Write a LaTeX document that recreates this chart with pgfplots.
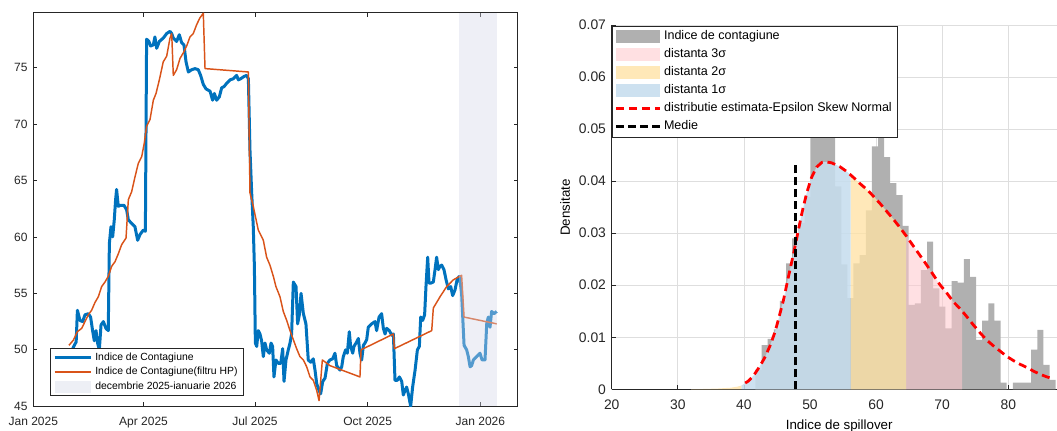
\documentclass[border=0pt]{standalone}
\usepackage{fontspec}
\setmainfont{Liberation Sans}
\usepackage{pgfplots}
\pgfplotsset{compat=1.18}
\definecolor{mblue}{RGB}{0,114,189}
\definecolor{morange}{RGB}{217,83,25}
\definecolor{shadec}{RGB}{212,215,232}
\definecolor{axgray}{RGB}{38,38,38}
\definecolor{histgray}{RGB}{176,176,176}
\definecolor{s1}{RGB}{198,221,238}
\definecolor{s2}{RGB}{255,226,165}
\definecolor{s3}{RGB}{255,200,205}
\begin{document}
\begin{tikzpicture}[x=1pt,y=1pt]
\useasboundingbox (0,0) rectangle (792.75,323.25);
\clip (0,0) rectangle (792.75,323.25);
% ---------------- left panel ----------------
\begin{axis}[
  at={(24.98pt,18.53pt)}, anchor=south west,
  width=363.3pt, height=295.2pt, scale only axis,
  xmin=0, xmax=395.5, ymin=45, ymax=79.85,
  xtick={0,90,181,273,365},
  xticklabels={Jan 2025,Apr 2025,Jul 2025,Oct 2025,Jan 2026},
  ytick={45,50,55,60,65,70,75},
  tick align=inside, major tick length=3pt,
  axis line style={axgray, line width=0.5pt},
  tick style={axgray, line width=0.5pt},
  /pgf/number format/assume math mode=true,
  ticklabel style={font=\fontsize{9}{10}\selectfont, text=axgray},
  xticklabel style={yshift=-4.5pt},
  yticklabel style={xshift=-0.75pt},
  legend style={at={(0.0345,0.027)}, anchor=south west,
    font=\fontsize{7.8}{9}\selectfont, draw=axgray, line width=0.5pt,
    inner xsep=2pt, inner ysep=1pt, row sep=0pt,
    nodes={inner ysep=0pt, text height=7.5pt, text depth=3.5pt}},
  legend cell align=left,
]
\addplot[mblue, line width=2.25pt, line join=round,
  legend image code/.code={\draw[mblue, line width=2.25pt] (0pt,0pt) -- (27.5pt,0pt);}]
coordinates {
(31,49.8)(33,50.3)(35,50.7)(36,53.5)(36.7,53.2)(38.1,52.6)(40.3,52.5)(42.2,53.1)(44.9,53.2)(46.8,52.9)
(48.4,51.7)(49.8,50.8)(51.2,51.7)(52.5,50.6)(53.9,50.0)(55.3,52.2)(57.2,52.5)(59.3,51.9)(61.2,51.7)
(62.1,59.4)(63.4,60.9)(64.8,60.0)(66.1,61.5)(67.2,63.3)(68.0,64.2)(69.4,62.7)(71.3,62.8)(74.0,62.8)
(76.2,62.4)(77.6,61.5)(80.3,61.2)(83.0,60.9)(85.2,59.7)(87.1,60.2)(89.8,60.6)(91.5,60.5)
(92.5,77.5)(94.4,77.3)(95.8,76.9)(98.0,77.0)(99.3,77.7)(100.7,76.7)(102.9,77.3)(106.1,77.6)(108.9,78.0)
(111.6,78.2)(113.0,78.0)(114.3,77.6)(117.0,77.3)(119.2,77.9)(121.1,77.2)(123.0,77.0)(124.7,75.5)
(126.6,74.6)(129.3,74.8)(132.0,74.9)(134.7,74.8)(136.6,74.3)(138.8,73.5)(141.0,73.1)(144.3,72.9)
(146.4,72.1)(147.8,72.7)(149.7,72.1)(151.9,72.4)(153.8,73.2)(155.7,73.3)(157.9,73.6)(160.6,73.9)
(163.3,74.0)(166.0,74.3)(167.4,73.9)(169.3,74.0)(172.0,74.2)(174.2,74.3)(175.6,74.0)
(176.9,67.7)(178.3,63.9)(179.6,60.9)(180.5,57.4)(181.3,50.6)(182.4,50.3)(183.7,51.7)(185.1,51.4)
(186.4,50.8)(187.8,49.4)(189.2,50.6)(190.5,50.0)(192.7,49.7)(194.1,50.6)(195.4,50.3)(196.5,47.6)
(198.1,49.1)(200.1,48.8)(202.0,48.8)(203.6,50.1)(204.7,47.2)(206.3,49.1)(208.2,50.0)(209.6,50.6)
(210.9,51.4)(212.3,56.0)(214.5,55.6)(215.8,52.3)(217.2,53.1)(218.6,55.0)(220.5,53.2)(222.6,52.3)
(224.5,49.1)(226.5,48.9)(228.6,49.2)(230.0,48.2)(231.4,47.0)(233.3,46.4)(234.6,46.1)(236.3,47.2)
(238.2,47.5)(240.1,48.8)(242.2,49.1)(244.4,49.2)(246.3,49.7)(247.7,48.6)(250.4,48.2)(251.8,48.5)
(253.1,49.4)(255.0,50.0)(256.4,49.7)(258.0,51.6)(259.1,50.3)(260.8,49.7)(261.8,50.3)(263.5,50.6)
(265.4,51.0)(266.7,49.7)(268.1,49.1)(269.5,50.4)(270.8,50.6)(272.2,50.9)(273.5,52.0)(276.3,52.3)
(279.0,52.5)(280.3,51.7)(282.3,52.9)(284.4,53.2)(285.8,51.9)(287.2,51.4)(288.5,51.9)(290.7,51.7)
(292.6,51.3)(294.0,51.4)(295.3,47.3)(297.2,47.3)(298.9,47.6)(300.8,47.2)(302.1,46.0)(303.5,46.4)
(304.8,46.7)(306.2,46.1)(308.1,45.0)(309.7,46.7)(311.7,48.2)(313.6,50.0)(315.2,50.3)(316.3,52.9)
(317.9,52.6)(319.5,53.1)(320.6,55.6)(322.0,58.2)(323.1,55.9)(324.4,55.9)(326.6,56.0)(328.0,57.1)
(329.3,58.2)(330.7,57.1)(332.1,57.4)(333.4,57.5)(335.3,57.1)(337.0,56.2)(338.9,55.4)(340.8,55.6)
(342.4,54.8)(344.3,55.3)(346.2,56.3)(347.9,56.5)(349.7,55.0)(351.7,50.4)(353.8,50.0)(355.2,49.4)
(356.6,48.5)(357.9,48.6)(359.3,49.1)(362.0,49.4)(364.7,49.7)(366.4,49.1)(368.8,49.1)(370.2,52.3)
(371.5,52.9)(372.9,52.0)(374.2,53.4)(376.1,53.2)(378.3,53.4)
};
\addlegendentry{Indice de Contagiune}
\addplot[morange, line width=1.1pt, line join=round,
  legend image code/.code={\draw[morange, line width=1.1pt] (0pt,0pt) -- (27.5pt,0pt);}]
coordinates {
(29.1,50.4)(32.7,50.85)(35.9,51.6)(39.5,51.9)(42.2,52.5)(44.9,53.1)(47.6,53.5)(50.4,54.2)(53.1,54.7)
(55.8,55.6)(58.5,56.0)(61.2,56.5)(64.0,57.4)(66.7,57.8)(69.4,58.5)(72.1,59.3)(75.7,59.9)(77.6,63.3)
(80.3,64.0)(83.0,65.3)(85.7,66.5)(88.5,67.1)(90.6,68.3)(92.5,69.8)(95.3,70.4)(98.0,72.1)(100.2,72.7)
(102.9,73.9)(106.1,75.5)(108.9,76.0)(111.6,77.6)(113.0,78.0)(114.3,74.3)(117.0,74.8)(119.8,75.8)
(122.5,76.3)(125.2,76.9)(127.9,77.7)(130.6,78.0)(133.4,78.8)(136.1,79.4)(138.8,79.8)(140.2,74.9)
(175.6,74.6)(176.9,63.9)(179.6,62.7)(183.7,60.6)(187.8,59.7)(190.5,58.2)(193.2,57.5)(196.0,56.5)
(198.1,55.6)(201.4,54.7)(204.1,53.4)(206.9,52.6)(209.6,51.7)(212.3,50.9)(215.0,50.1)(217.7,49.4)
(220.5,49.1)(223.2,48.5)(225.9,47.6)(228.6,47.3)(231.4,46.4)(233.3,45.5)(236.0,49.1)(242.2,48.6)
(266.7,47.6)(267.6,50.0)(294.0,51.4)(294.8,50.1)(325.3,51.7)(326.6,53.7)(332.1,54.7)(337.5,55.6)
(343.0,56.2)(349.7,56.6)(351.7,52.9)(378.3,52.3)
};
\addlegendentry{Indice de Contagiune(filtru HP)}
\addplot[draw=none, fill=shadec, fill opacity=0.4,
  legend image code/.code={\fill[shadec, fill opacity=0.4] (0pt,-4.4pt) rectangle (27.5pt,4.4pt);}]
coordinates {(347.6,45) (347.6,79.85) (378.4,79.85) (378.4,45)} -- cycle;
\addlegendentry{decembrie 2025-ianuarie 2026}
\end{axis}
% ---------------- right panel ----------------
\begin{axis}[
  at={(458.78pt,31.28pt)}, anchor=south west,
  width=334.1pt, height=273.2pt, scale only axis,
  xmin=20, xmax=87.4, ymin=0, ymax=0.07,
  axis x line*=bottom, axis y line*=left,
  axis line style={-, axgray, line width=0.5pt},
  xtick={20,30,40,50,60,70,80},
  ytick={0,0.01,0.02,0.03,0.04,0.05,0.06,0.07},
  yticklabels={0,0.01,0.02,0.03,0.04,0.05,0.06,0.07},
  scaled y ticks=false,
  grid=major, grid style={black!13, line width=0.5pt},
  tick align=inside, major tick length=3.5pt,
  tick style={axgray, line width=0.5pt},
  /pgf/number format/assume math mode=true,
  ticklabel style={font=\fontsize{10.4}{11}\selectfont, text=axgray},
  xticklabel style={yshift=-4.6pt},
  yticklabel style={xshift=-0.8pt},
  xlabel={Indice de spillover}, ylabel={Densitate},
  label style={font=\fontsize{11.5}{12}\selectfont, text=axgray},
  every axis x label/.style={at={(axis description cs:0.5107,-0.1007)}, anchor=center},
  every axis y label/.style={at={(axis description cs:-0.1048,0.499)}, anchor=center, rotate=90},
  legend style={at={(0,0.997)}, anchor=north west,
    font=\fontsize{9.4}{10}\selectfont, draw=axgray, line width=0.5pt,
    inner xsep=2pt, inner ysep=1pt, row sep=0pt,
    nodes={inner ysep=0pt, text height=9pt, text depth=4.5pt}},
  legend cell align=left,
]
\addplot[draw=none, fill=histgray, const plot,
  legend image code/.code={\fill[histgray] (0pt,-4.75pt) rectangle (32.5pt,4.75pt);}]
coordinates {
(41.75,0.0038)(42.68,0.0085)(43.60,0.0097)(44.53,0.0115)(45.46,0.0170)(46.39,0.0242)(47.31,0.0290)
(48.24,0.0320)(49.17,0.0370)(50.09,0.0520)(51.02,0.0560)(51.95,0.0540)(52.87,0.0510)(53.80,0.0390)
(54.73,0.0240)(55.66,0.0175)(56.58,0.0242)(57.51,0.0258)(58.44,0.0344)(59.36,0.0467)(60.29,0.0510)
(61.22,0.0446)(62.14,0.0396)(63.07,0.0373)(64.00,0.0314)(64.93,0.0162)(65.85,0.0165)(66.78,0.0229)
(67.71,0.0284)(68.63,0.0194)(69.56,0.0159)(70.49,0.0117)(71.41,0.0208)(72.34,0.0205)(73.27,0.0250)
(74.20,0.0216)(75.12,0.0095)(76.05,0.0132)(76.98,0.0165)(77.90,0.0132)(78.83,0.0013)(79.76,0.0)
(80.68,0.0013)(81.61,0.0013)(82.54,0.0013)(83.47,0.0076)(84.39,0.0114)(85.32,0.0047)(86.25,0.0018)
(87.17,0.0018)
} \closedcycle;
\addlegendentry{Indice de contagiune}
\addplot[draw=none, fill=s3, fill opacity=0.56,
  legend image code/.code={\fill[s3, fill opacity=0.56] (0pt,-4.75pt) rectangle (32.5pt,4.75pt);}]
coordinates {(64.53,0)(64.53,0.0296)(65.6,0.0276)(66.6,0.0258)(67.6,0.0240)(68.6,0.0221)(69.6,0.0202)
(70.7,0.0185)(71.7,0.0168)(72.7,0.0155)(73.0,0.0151)(73.0,0)} -- cycle;
\addlegendentry{distanta 3σ}
\addplot[draw=none, fill=s2, fill opacity=0.78,
  legend image code/.code={\fill[s2, fill opacity=0.78] (0pt,-4.75pt) rectangle (32.5pt,4.75pt);}]
coordinates {(56.16,0)(56.16,0.0412)(56.5,0.0408)(57.5,0.0396)(58.6,0.0384)(59.6,0.0371)(60.6,0.0357)
(61.6,0.0342)(62.6,0.0327)(63.6,0.0311)(64.53,0.0296)(64.53,0)} -- cycle;
\addlegendentry{distanta 2σ}
\addplot[draw=none, fill=s1, fill opacity=0.87,
  legend image code/.code={\fill[s1, fill opacity=0.87] (0pt,-4.75pt) rectangle (32.5pt,4.75pt);}]
coordinates {(39.6,0)(39.6,0.0007)(40.2,0.0012)(40.7,0.0016)(41.5,0.0027)(42.4,0.0044)(43.2,0.0062)
(44.0,0.0085)(44.7,0.0110)(45.2,0.0133)(46.0,0.0172)(46.7,0.0214)(47.5,0.0260)(48.2,0.0303)
(48.8,0.0340)(49.5,0.0377)(50.2,0.0406)(51.0,0.0427)(51.8,0.0436)(52.5,0.0437)(53.3,0.0435)
(54.5,0.0428)(55.5,0.0419)(56.16,0.0412)(56.16,0)} -- cycle;
\addlegendentry{distanta 1σ}
\addplot[forget plot, draw=none, fill=s2, fill opacity=0.78]
coordinates {(32.0,0)(32.0,0.00002)(34.0,0.00006)(36.0,0.00014)(38.0,0.0003)(39.0,0.0005)(39.6,0.0007)(39.6,0)} -- cycle;
\addplot[red, line width=2.1pt, dash pattern=on 6pt off 3.6pt,
  legend image code/.code={\draw[red, line width=2.1pt, dash pattern=on 6pt off 3.6pt] (0pt,0pt) -- (32.5pt,0pt);}]
coordinates {(40.2,0.0012)(40.7,0.0016)(41.5,0.0027)(42.4,0.0044)(43.2,0.0062)(44.0,0.0085)(44.7,0.0110)
(45.2,0.0133)(46.0,0.0172)(46.7,0.0214)(47.5,0.0260)(48.2,0.0303)(48.8,0.0340)(49.5,0.0377)(50.2,0.0406)
(51.0,0.0427)(51.8,0.0436)(52.5,0.0437)(53.3,0.0435)(54.5,0.0428)(55.5,0.0419)(56.5,0.0408)(57.5,0.0396)
(58.6,0.0384)(59.6,0.0371)(60.6,0.0357)(61.6,0.0342)(62.6,0.0327)(63.6,0.0311)(64.6,0.0294)(65.6,0.0276)
(66.6,0.0258)(67.6,0.0240)(68.6,0.0221)(69.6,0.0202)(70.7,0.0185)(71.7,0.0168)(72.7,0.0155)(73.7,0.0140)
(74.7,0.0124)(75.7,0.0109)(76.7,0.0095)(77.7,0.0084)(78.8,0.0073)(79.8,0.0063)(80.8,0.0055)(81.8,0.0048)
(82.8,0.0042)(83.8,0.0035)(84.8,0.0029)(85.8,0.0024)(86.8,0.0020)};
\addlegendentry{distributie estimata-Epsilon Skew Normal}
\addplot[black, line width=2.5pt, dash pattern=on 6pt off 3pt,
  legend image code/.code={\draw[black, line width=2.5pt, dash pattern=on 6pt off 3pt] (0pt,0pt) -- (32.5pt,0pt);}]
coordinates {(47.84,0) (47.84,0.0437)};
\addlegendentry{Medie}
\end{axis}
\end{tikzpicture}
\end{document}
